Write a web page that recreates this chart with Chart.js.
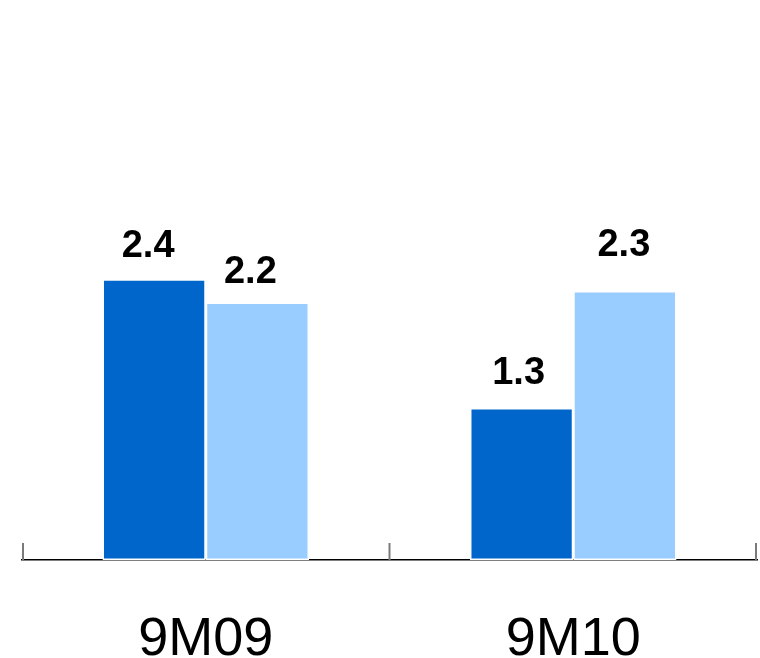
<!DOCTYPE html>
<html>
<head>
<meta charset="utf-8">
<script src="https://cdn.jsdelivr.net/npm/chart.js@4.4.1/dist/chart.umd.min.js"></script>
<style>
  html, body { margin: 0; padding: 0; background: #fff; }
  #wrap { width: 760px; height: 658px; }
</style>
</head>
<body>
<div id="wrap"><canvas id="grafico" width="760" height="658"></canvas></div>
<script>
// Datos del gráfico
const periodos = ["9M09", "9M10"];
const serieOscura = [2.4, 1.3];
const serieClara = [2.2, 2.3];

// Ajustes manuales de las etiquetas (dx, elevación sobre la barra)
const ajusteEtiquetas = [
    [[-6, 22], [-3, 24]],
    [[-7, 20], [-1, 35]]
];

// Plugin: marcas verticales en los límites de cada categoría
const marcasEje = {
    id: "marcasEje",
    afterDraw(chart) {
        const x = chart.scales.x;
        const ctx = chart.ctx;
        const ancho = x.width / periodos.length;
        ctx.save();
        ctx.strokeStyle = "#7a7a7a";
        ctx.lineWidth = 2;
        for (let i = 0; i <= periodos.length; i++) {
            let px = x.left + i * ancho;
            if (i === 0) px += 1;
            if (i === periodos.length) px -= 1;
            ctx.beginPath();
            ctx.moveTo(px, x.top - 17);
            ctx.lineTo(px, x.top);
            ctx.stroke();
        }
        ctx.restore();
    }
};

// Plugin: valores encima de las barras
const etiquetasValor = {
    id: "etiquetasValor",
    afterDatasetsDraw(chart) {
        const ctx = chart.ctx;
        ctx.save();
        ctx.font = "bold 38px 'Liberation Sans', Arial, sans-serif";
        ctx.fillStyle = "#000";
        ctx.textAlign = "center";
        ctx.textBaseline = "alphabetic";
        chart.data.datasets.forEach(function(ds, d) {
            const meta = chart.getDatasetMeta(d);
            meta.data.forEach(function(barra, i) {
                const aj = ajusteEtiquetas[d][i];
                ctx.fillText(ds.data[i].toFixed(1), barra.x + aj[0], barra.y - aj[1]);
            });
        });
        ctx.restore();
    }
};

new Chart(document.getElementById("grafico").getContext("2d"), {
    type: "bar",
    data: {
        labels: periodos,
        datasets: [
            {
                data: serieOscura,
                backgroundColor: "#0066CC",
                borderColor: "#ffffff",
                borderWidth: 1.5,
                borderSkipped: false
            },
            {
                data: serieClara,
                backgroundColor: "#99CCFF",
                borderColor: "#ffffff",
                borderWidth: 1.5,
                borderSkipped: false
            }
        ]
    },
    options: {
        responsive: false,
        animation: false,
        layout: { padding: { left: 22, right: 3, top: 92, bottom: 0 } },
        plugins: {
            legend: { display: false },
            tooltip: { enabled: false }
        },
        datasets: {
            bar: { categoryPercentage: 0.562, barPercentage: 1.0 }
        },
        scales: {
            x: {
                afterFit: function(escala) { escala.height = 98; },
                grid: { display: false, drawTicks: false },
                border: { display: true, color: "#000", width: 1.5 },
                ticks: {
                    color: "#000",
                    padding: 53,
                    font: { family: "'Liberation Sans', Arial, sans-serif", size: 54, lineHeight: 1 }
                }
            },
            y: {
                display: false,
                min: 0,
                max: 4
            }
        }
    },
    plugins: [marcasEje, etiquetasValor]
});
</script>
</body>
</html>
